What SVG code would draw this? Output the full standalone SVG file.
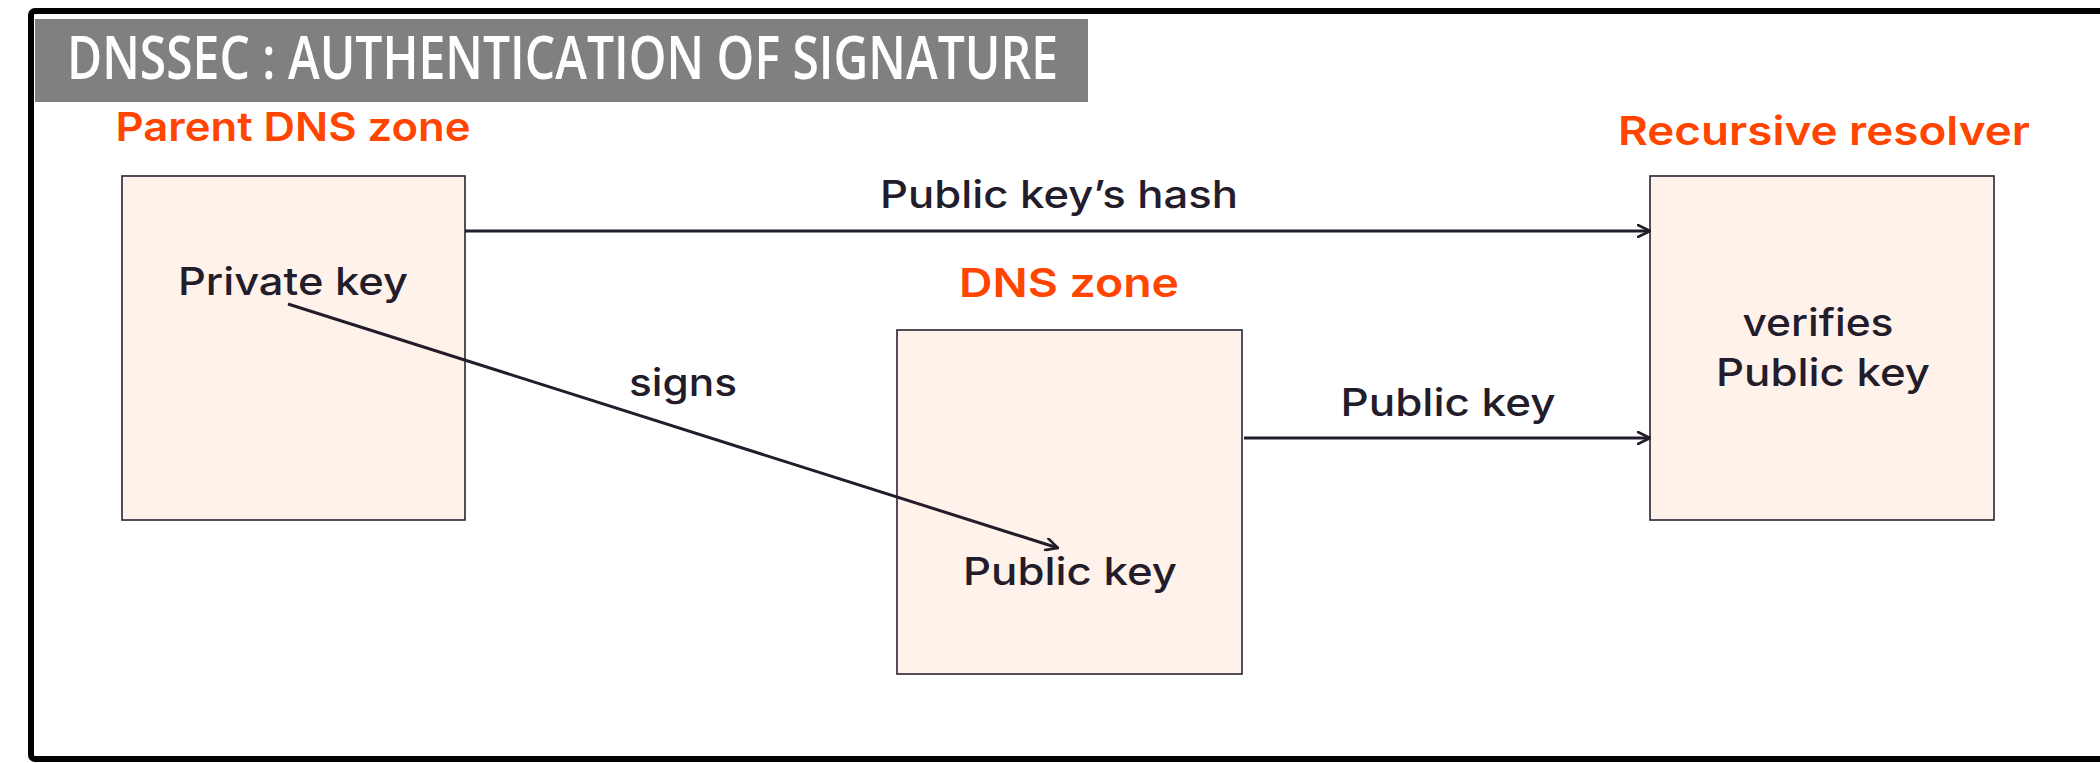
<svg xmlns="http://www.w3.org/2000/svg" width="2100" height="763" viewBox="0 0 2100 763">
<style>
.box{fill:#fff2ea;stroke:#2a2233;stroke-width:1.6}
.lbl{font-family:Inter,"Noto Sans",sans-serif;font-weight:500;font-size:38px;fill:#231c2b;text-anchor:middle}
.hd{font-family:Inter,"Noto Sans",sans-serif;font-weight:600;font-size:40px;fill:#ff4500;text-anchor:middle}
.title{font-family:"Open Sans","Noto Sans",sans-serif;font-weight:600;font-size:59px;fill:#ffffff}
.conn{stroke:#231c2b;stroke-width:3;fill:none}
</style>
<defs>
<marker id="arr" viewBox="0 0 14 14" refX="13" refY="7" markerWidth="14" markerHeight="14" markerUnits="userSpaceOnUse" orient="auto">
<path d="M1,1 L13,7 L1,13" fill="none" stroke="#231c2b" stroke-width="2.6" stroke-linecap="round" stroke-linejoin="round"/>
</marker>
</defs>
<rect x="0" y="0" width="2100" height="763" fill="#ffffff"/>
<rect x="31" y="11" width="2200" height="748" rx="4" fill="none" stroke="#000000" stroke-width="6"/>
<g id="title">
<rect x="35" y="19" width="1053" height="83" fill="#808080"/>
<text class="title" x="67" y="79" textLength="991" lengthAdjust="spacingAndGlyphs">DNSSEC : AUTHENTICATION OF SIGNATURE</text>
</g>
<g id="parent-zone">
<text class="hd" x="293" y="141" textLength="355" lengthAdjust="spacingAndGlyphs">Parent DNS zone</text>
<rect class="box" x="122" y="176" width="343" height="344"/>
<text class="lbl" x="293" y="295" textLength="230" lengthAdjust="spacingAndGlyphs">Private key</text>
</g>
<g id="dns-zone">
<text class="hd" x="1069" y="297" textLength="220" lengthAdjust="spacingAndGlyphs">DNS zone</text>
<rect class="box" x="897" y="330" width="345" height="344"/>
<text class="lbl" x="1070" y="585" textLength="214" lengthAdjust="spacingAndGlyphs">Public key</text>
</g>
<g id="resolver">
<text class="hd" x="1824" y="145" textLength="412" lengthAdjust="spacingAndGlyphs">Recursive resolver</text>
<rect class="box" x="1650" y="176" width="344" height="344"/>
<text class="lbl" x="1818" y="336" textLength="151" lengthAdjust="spacingAndGlyphs">verifies</text>
<text class="lbl" x="1823" y="386" textLength="214" lengthAdjust="spacingAndGlyphs">Public key</text>
</g>
<g id="connectors">
<line class="conn" x1="465" y1="231" x2="1650" y2="231" marker-end="url(#arr)"/>
<text class="lbl" x="1059" y="208" textLength="358" lengthAdjust="spacingAndGlyphs">Public key’s hash</text>
<line class="conn" x1="288" y1="304" x2="1058" y2="548" marker-end="url(#arr)"/>
<text class="lbl" x="683" y="396" textLength="108" lengthAdjust="spacingAndGlyphs">signs</text>
<line class="conn" x1="1244" y1="438" x2="1650" y2="438" marker-end="url(#arr)"/>
<text class="lbl" x="1448" y="416" textLength="215" lengthAdjust="spacingAndGlyphs">Public key</text>
</g>
</svg>
